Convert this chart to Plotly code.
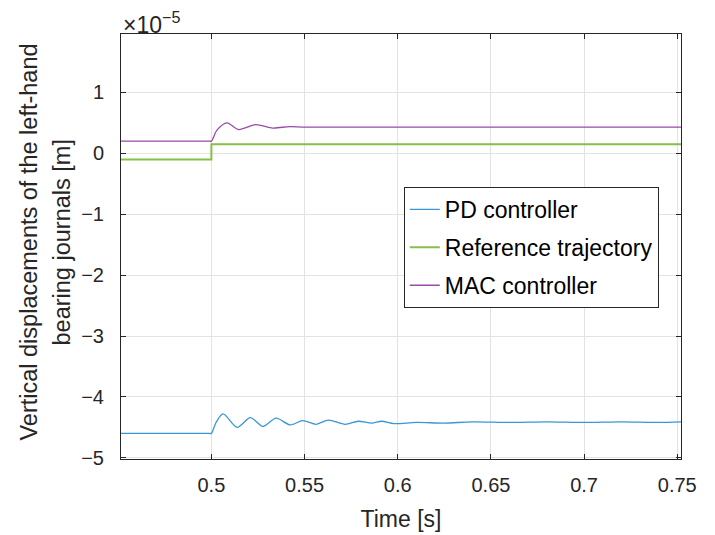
import plotly.graph_objects as go

# time instants [s] and displacements in units of 1e-5 m
pd_time = [0.4515, 0.48, 0.499, 0.5, 0.5025, 0.5063, 0.5138, 0.5209, 0.5277, 0.5347, 0.5423,
           0.549, 0.5562, 0.5628, 0.5718, 0.5788, 0.586, 0.5914, 0.598, 0.61, 0.625,
           0.64, 0.66, 0.68, 0.70, 0.72, 0.74, 0.752]
pd_disp = [-4.60, -4.60, -4.60, -4.60, -4.42, -4.28, -4.50, -4.34, -4.485, -4.35, -4.46,
           -4.39, -4.45, -4.38, -4.45, -4.40, -4.43, -4.40, -4.44, -4.42, -4.43,
           -4.41, -4.42, -4.41, -4.42, -4.41, -4.42, -4.41]

ref_time = [0.4515, 0.5, 0.752]
ref_disp = [-0.10, 0.15, 0.15]

mac_time = [0.4515, 0.48, 0.499, 0.5, 0.503, 0.5084, 0.5145, 0.5236, 0.533, 0.542, 0.55,
            0.57, 0.60, 0.65, 0.70, 0.752]
mac_disp = [0.20, 0.20, 0.20, 0.20, 0.38, 0.50, 0.39, 0.47, 0.415, 0.44, 0.43,
            0.43, 0.43, 0.43, 0.43, 0.43]

x_ticks = [0.5, 0.55, 0.6, 0.65, 0.7, 0.75]
x_tick_labels = ["0.5", "0.55", "0.6", "0.65", "0.7", "0.75"]
y_ticks = [-5, -4, -3, -2, -1, 0, 1]
y_tick_labels = ["\u22125", "\u22124", "\u22123", "\u22122", "\u22121", "0", "1"]
y_title_lines = ["Vertical displacements of the left-hand", "bearing journals [m]"]

FONT = "Liberation Sans, Arial, sans-serif"
DARK = "#262626"

fig = go.Figure()
fig.add_trace(go.Scatter(x=pd_time, y=pd_disp, mode="lines", name="PD controller",
                         legendgroup="a",
                         line=dict(color="#3a96d4", width=1.3, shape="spline", smoothing=0.8)))
fig.add_trace(go.Scatter(x=ref_time, y=ref_disp, mode="lines", name="Reference trajectory",
                         legendgroup="b",
                         line=dict(color="#86bf4a", width=2, shape="hv")))
fig.add_trace(go.Scatter(x=mac_time, y=mac_disp, mode="lines", name="MAC controller",
                         legendgroup="c",
                         line=dict(color="#9a4aa8", width=1.3, shape="spline", smoothing=0.8)))

axis_common = dict(showline=True, linecolor=DARK, linewidth=1, mirror="ticks",
                   ticks="inside", ticklen=5, tickcolor=DARK,
                   showgrid=True, gridcolor="#e3e3e3", gridwidth=1, zeroline=False,
                   tickfont=dict(family=FONT, size=20, color=DARK))

fig.update_xaxes(range=[0.4515, 0.752], tickvals=x_ticks, ticktext=x_tick_labels,
                 ticklabelstandoff=8,
                 title=dict(text="Time [s]", font=dict(family=FONT, size=23, color=DARK),
                            standoff=15),
                 **axis_common)
fig.update_yaxes(range=[-5.02, 1.96], tickvals=y_ticks, ticktext=y_tick_labels,
                 ticklabelstandoff=12, **axis_common)

for xpos, line in zip([-0.166, -0.1054], y_title_lines):
    fig.add_annotation(x=xpos, y=0.5, xref="paper", yref="paper", textangle=-90,
                       text=line, showarrow=False, yshift=4,
                       font=dict(family=FONT, size=23.5, color=DARK),
                       xanchor="center", yanchor="middle")
fig.add_annotation(x=0.0, y=1.0, xref="paper", yref="paper", yshift=-6,
                   text="\u00d710<sup>\u22125</sup>", showarrow=False,
                   font=dict(family=FONT, size=23, color=DARK),
                   xanchor="left", yanchor="bottom")

# page body has an 8 px default margin; figure sized/margined to place the axes as in the reference
fig.update_layout(
    width=707, height=527,
    margin=dict(l=113, r=34, t=26, b=76, autoexpand=False),
    paper_bgcolor="white", plot_bgcolor="white",
    font=dict(family=FONT, color=DARK),
    showlegend=True,
    legend=dict(x=0.505, y=0.64, xanchor="left", yanchor="top",
                bgcolor="white", bordercolor=DARK, borderwidth=1,
                font=dict(family=FONT, size=23, color="black"),
                traceorder="grouped", tracegroupgap=5),
)

fig.write_html("out.html")
